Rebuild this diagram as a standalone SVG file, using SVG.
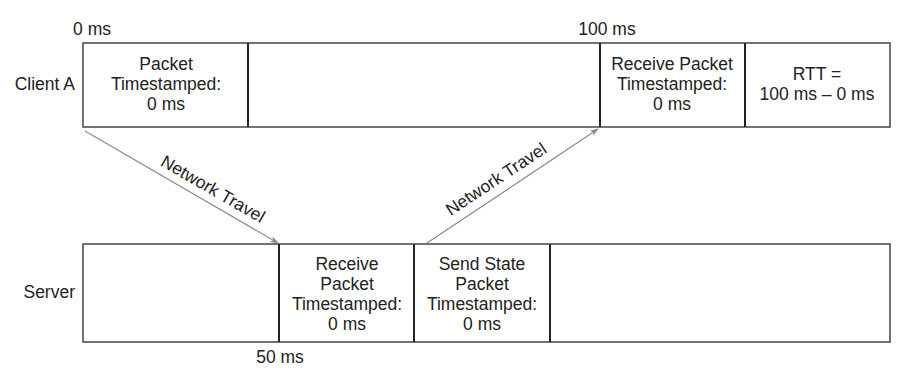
<svg xmlns="http://www.w3.org/2000/svg" width="915" height="377" viewBox="0 0 915 377">
  <style>
    text { font-family: "Liberation Sans", Arial, sans-serif; font-size: 17.5px; fill: #222; }
    .c { text-anchor: middle; }
    .r { text-anchor: end; }
    .frame { fill: #fff; stroke: #444; stroke-width: 1.5; }
    .div { stroke: #222; stroke-width: 2; }
    .travel { stroke: #8a8a8a; stroke-width: 1.2; fill: none; marker-end: url(#head); }
  </style>
  <defs>
    <marker id="head" viewBox="0 0 10 10" refX="9" refY="5" markerWidth="9" markerHeight="9" markerUnits="userSpaceOnUse" orient="auto">
      <path d="M0,1.5 L10,5 L0,8.5 L3,5 Z" fill="#8a8a8a"/>
    </marker>
  </defs>
  <rect width="915" height="377" fill="#fff"/>

  <!-- time marks -->
  <text class="c" x="92" y="35">0 ms</text>
  <text class="c" x="607" y="35">100 ms</text>
  <text class="c" x="280" y="363">50 ms</text>

  <!-- client timeline -->
  <g id="client-a">
    <text class="r" x="75" y="90">Client A</text>
    <rect class="frame" x="83" y="43" width="807" height="84"/>
    <line class="div" x1="248" y1="43" x2="248" y2="127"/>
    <line class="div" x1="600" y1="43" x2="600" y2="127"/>
    <line class="div" x1="745" y1="43" x2="745" y2="127"/>
  </g>
  <g id="client-send">
    <text class="c" x="166" y="70">Packet</text>
    <text class="c" x="166" y="90">Timestamped:</text>
    <text class="c" x="166" y="110">0 ms</text>
  </g>
  <g id="client-receive">
    <text class="c" x="672" y="70">Receive Packet</text>
    <text class="c" x="672" y="90">Timestamped:</text>
    <text class="c" x="672" y="110">0 ms</text>
  </g>
  <g id="client-rtt">
    <text class="c" x="817" y="80">RTT =</text>
    <text class="c" x="817" y="100">100 ms – 0 ms</text>
  </g>

  <!-- server timeline -->
  <g id="server">
    <text class="r" x="75" y="298">Server</text>
    <rect class="frame" x="83" y="244" width="807" height="98"/>
    <line class="div" x1="279" y1="244" x2="279" y2="342"/>
    <line class="div" x1="414" y1="244" x2="414" y2="342"/>
    <line class="div" x1="550" y1="244" x2="550" y2="342"/>
  </g>
  <g id="server-receive">
    <text class="c" x="347" y="270">Receive</text>
    <text class="c" x="347" y="290">Packet</text>
    <text class="c" x="347" y="310">Timestamped:</text>
    <text class="c" x="347" y="330">0 ms</text>
  </g>
  <g id="server-send">
    <text class="c" x="482" y="270">Send State</text>
    <text class="c" x="482" y="290">Packet</text>
    <text class="c" x="482" y="310">Timestamped:</text>
    <text class="c" x="482" y="330">0 ms</text>
  </g>

  <!-- packets in flight -->
  <g id="connectors">
    <line class="travel" x1="85" y1="131" x2="278" y2="243"/>
    <line class="travel" x1="427" y1="243" x2="598" y2="129"/>
    <text class="c" transform="translate(213,189) rotate(30)" y="6">Network Travel</text>
    <text class="c" transform="translate(496,179) rotate(-33.5)" y="6">Network Travel</text>
  </g>
</svg>
